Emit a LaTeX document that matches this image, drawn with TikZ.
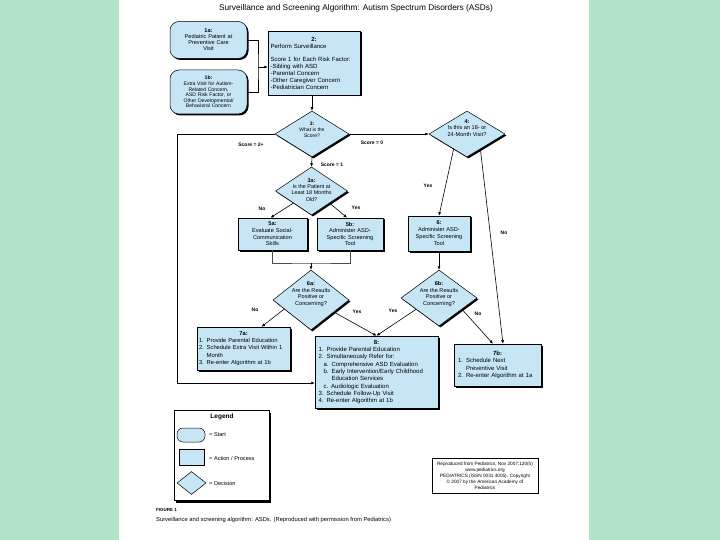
\documentclass[tikz,border=0pt]{standalone}
\usepackage{fontspec}
\setmainfont{Liberation Sans}
\usetikzlibrary{shapes.geometric,shadows,arrows.meta,calc}
\definecolor{bgreen}{RGB}{180,228,200}
\definecolor{boxblue}{RGB}{198,230,246}
\newcommand{\fsz}[2]{\fontsize{#1}{#2}\selectfont}
\newcommand{\ctrline}[1]{\hspace*{\fill}#1\hspace*{\fill}\mbox{}}
\tikzset{
  shad/.style={drop shadow={shadow xshift=1.5pt,shadow yshift=-1.5pt,fill=black,opacity=1}},
  box/.style={draw=black,line width=0.5pt,fill=boxblue,shad,inner xsep=2.5pt,inner ysep=1pt},
  startbox/.style={box,rounded corners=9pt},
  dia/.style={diamond,draw=black,line width=0.5pt,fill=boxblue,shad,inner sep=0pt},
  dtext/.style={align=center,inner sep=0pt},
  lab/.style={font=\fsz{5}{6}\bfseries,inner sep=0.5pt},
  conn/.style={line width=0.6pt,black},
  arr/.style={conn,-{Latex[length=3.5pt,width=3pt]}},
  legtext/.style={anchor=west,font=\fsz{5.6}{6},inner sep=0pt}
}
\begin{document}
\begin{tikzpicture}[x=1pt,y=-1pt]
\useasboundingbox (0,0) rectangle (720,540);
\fill[bgreen] (0,0) rectangle (720,540);
\fill[white] (119,0) rectangle (589,540);

\node[font=\fsz{8.3}{9}] (title) at (356,8) {Surveillance and Screening Algorithm: Autism Spectrum Disorders (ASDs)};

% start nodes
\node[startbox,minimum width=77pt,minimum height=37pt,text width=71pt,align=center,font=\fsz{5.6}{6}] (a1) at (208.5,40)
  {\textbf{1a:}\\Pediatric Patient at\\Preventive Care\\Visit};
\node[startbox,minimum width=77pt,minimum height=44pt,text width=72pt,align=center,font=\fsz{5.1}{5.6}] (b1) at (208.5,92)
  {\textbf{1b:}\\Extra Visit for Autism-\\Related Concern,\\ASD Risk Factor, or\\Other Developmental/\\Behavioral Concern};

% box 2
\node[box,minimum width=92pt,minimum height=64pt,text width=87pt,align=left,font=\fsz{6}{7}] (b2) at (314,63)
  {\ctrline{\textbf{2:}}\\Perform Surveillance\\[6pt]Score 1 for Each Risk Factor:\\-Sibling with ASD\\-Parental Concern\\-Other Caregiver Concern\\-Pediatrician Concern};

% diamonds
\node[dia,minimum width=74pt,minimum height=46pt,
  label={[dtext,font=\fsz{5}{5.8},yshift=4pt]center:{\textbf{3:}\\What is the\\Score?}}] (d3) at (312,134) {};
\node[dia,minimum width=76pt,minimum height=46pt,
  label={[dtext,font=\fsz{5.6}{6.4},yshift=6pt]center:{\textbf{4:}\\Is this an 18- or\\24-Month Visit?}}] (d4) at (467,134) {};
\node[dia,minimum width=72pt,minimum height=48pt,
  label={[dtext,font=\fsz{5.4}{6.2},yshift=1pt]center:{\textbf{3a:}\\Is the Patient at\\Least 18 Months\\Old?}}] (d3a) at (311.5,191) {};
\node[dia,minimum width=76pt,minimum height=60pt,
  label={[dtext,font=\fsz{5.6}{6.6},yshift=6pt]center:{\textbf{6a:}\\Are the Results\\Positive or\\Concerning?}}] (d6a) at (311,300) {};
\node[dia,minimum width=76pt,minimum height=56pt,
  label={[dtext,font=\fsz{5.6}{6.6},yshift=4pt]center:{\textbf{6b:}\\Are the Results\\Positive or\\Concerning?}}] (d6b) at (439,298) {};

% process boxes
\node[box,minimum width=69pt,minimum height=32pt,text width=64pt,align=center,font=\fsz{5.6}{6.6}] (a5) at (272.5,234)
  {\textbf{5a:}\\Evaluate Social-\\Communication\\Skills};
\node[box,minimum width=66pt,minimum height=32pt,text width=61pt,align=center,font=\fsz{5.6}{6.6}] (b5) at (350,234)
  {\textbf{5b:}\\Administer ASD-\\Specific Screening\\Tool};
\node[box,minimum width=62pt,minimum height=35pt,text width=57pt,align=center,font=\fsz{5.6}{7}] (c6) at (439,233.5)
  {\textbf{6:}\\Administer ASD-\\Specific Screening\\Tool};
\node[box,minimum width=93pt,minimum height=43pt,text width=89pt,inner xsep=2pt,align=left,font=\fsz{5.8}{7.4}] (b7a) at (243.5,348.5)
  {\ctrline{\textbf{7a:}}\\1. Provide Parental Education\\2. Schedule Extra Visit Within 1\\\phantom{2. }Month\\3. Re-enter Algorithm at 1b};
\node[box,minimum width=123pt,minimum height=72pt,text width=116pt,inner xsep=3.5pt,align=left,font=\fsz{6}{7.3}] (b8) at (376.5,372)
  {\ctrline{\textbf{8:}}\\1. Provide Parental Education\\2. Simultaneously Refer for:\\\hspace*{5pt}a. Comprehensive ASD Evaluation\\\hspace*{5pt}b. Early Intervention/Early Childhood\\\hspace*{13pt}Education Services\\\hspace*{5pt}c. Audiologic Evaluation\\3. Schedule Follow-Up Visit\\4. Re-enter Algorithm at 1b};
\node[box,minimum width=87pt,minimum height=42pt,text width=79pt,inner xsep=4pt,align=left,font=\fsz{6}{7.3}] (b7b) at (497.5,365)
  {\ctrline{\textbf{7b:}}\\1. Schedule Next\\\phantom{1. }Preventive Visit\\2. Re-enter Algorithm at 1a};

% connectors
\coordinate (J) at (258,67);
\draw[conn] (a1.east) -| (J) |- (b1.east);
\draw[arr] (J) -- (J -| b2.west);
\draw[arr] (b2.south -| d3.north) -- (d3.north);
\draw[arr] (d3.east) -- (d4.west);
\draw[arr] (d3.south) -- (d3a.north);
\draw[arr] (d3a.south west) -- ([xshift=-2pt]a5.north);
\draw[arr] (d3a.south east) -- ([xshift=-3pt]b5.north);
\coordinate (M) at (311,263);
\draw[conn,line width=0.5pt,black!70] (a5.south) |- (M) -| (b5.south);
\draw[arr] (M) -- (d6a.north);
\draw[arr] ($(d4.south)!0.35!(d4.west)$) -- (c6.north);
\draw[arr] ($(d4.south)!0.35!(d4.east)$) -- ([xshift=5.5pt]b7b.north);
\draw[arr] (c6.south) -- (d6b.north);
\draw[arr] ($(d6a.west)!0.3!(d6a.south)$) -- ([xshift=18pt]b7a.north);
\draw[arr] ($(d6a.east)!0.4!(d6a.south)$) -- (b8.north);
\draw[arr] ($(d6b.west)!0.4!(d6b.south)$) -- (b8.north);
\draw[arr] ($(d6b.east)!0.4!(d6b.south)$) -- ([xshift=-4.5pt]b7b.north);
\coordinate (L) at (177,383);
\draw[arr] (d3.west) -| (L) -- (L -| b8.west);

% connector labels
\node[lab] (s0) at (372,143) {Score = 0};
\node[lab] (s1) at (332,165) {Score = 1};
\node[lab] (s2) at (251,145) {Score = 2+};
\node[lab] (y4) at (428,186) {Yes};
\node[lab] (n4) at (504,233) {No};
\node[lab] (n3a) at (262,209) {No};
\node[lab] (y3a) at (356,208) {Yes};
\node[lab] (n6a) at (255,310) {No};
\node[lab] (y6a) at (357,312) {Yes};
\node[lab] (y6b) at (393,311) {Yes};
\node[lab] (n6b) at (478,314) {No};

% legend
\node[draw=black,line width=0.5pt,fill=white,minimum width=95pt,minimum height=90pt,
  drop shadow={shadow xshift=2pt,shadow yshift=-2.5pt,fill=black,opacity=1}] (leg) at (221.5,455) {};
\node[font=\fsz{6.5}{7}\bfseries] (legt) at (222,417) {Legend};
\node[draw=black,line width=0.5pt,rounded corners=6pt,fill=boxblue,minimum width=28pt,minimum height=14pt,inner sep=0pt] (legs) at (191,435) {};
\node[legtext] (legst) at (209,435) {= Start};
\node[draw=black,line width=0.5pt,fill=boxblue,minimum width=25pt,minimum height=16pt,inner sep=0pt] (legp) at (191.5,457) {};
\node[legtext] (legpt) at (209,458) {= Action / Process};
\node[diamond,draw=black,line width=0.5pt,fill=boxblue,minimum width=29pt,minimum height=23pt,inner sep=0pt] (legd) at (191.5,483) {};
\node[legtext] (legdt) at (209,483) {= Decision};

% caption
\node[anchor=west,font=\fsz{4.5}{5}\bfseries,inner sep=0pt] (fig) at (156,510) {FIGURE 1};
\node[anchor=west,font=\fsz{5.8}{6},inner sep=0pt] (cap) at (156,520) {Surveillance and screening algorithm: ASDs. (Reproduced with permission from Pediatrics)};

% citation
\node[draw=black,line width=0.6pt,minimum width=106pt,minimum height=35pt,align=center,font=\fsz{4.7}{6},inner sep=1pt] (cite) at (485,475.5)
  {Reproduced from Pediatrics, Nov 2007;120(5)\\www.pediatrics.org\\PEDIATRICS (ISSN 0031 4005). Copyright\\\textcopyright{} 2007 by the American Academy of\\Pediatrics};
\end{tikzpicture}
\end{document}
